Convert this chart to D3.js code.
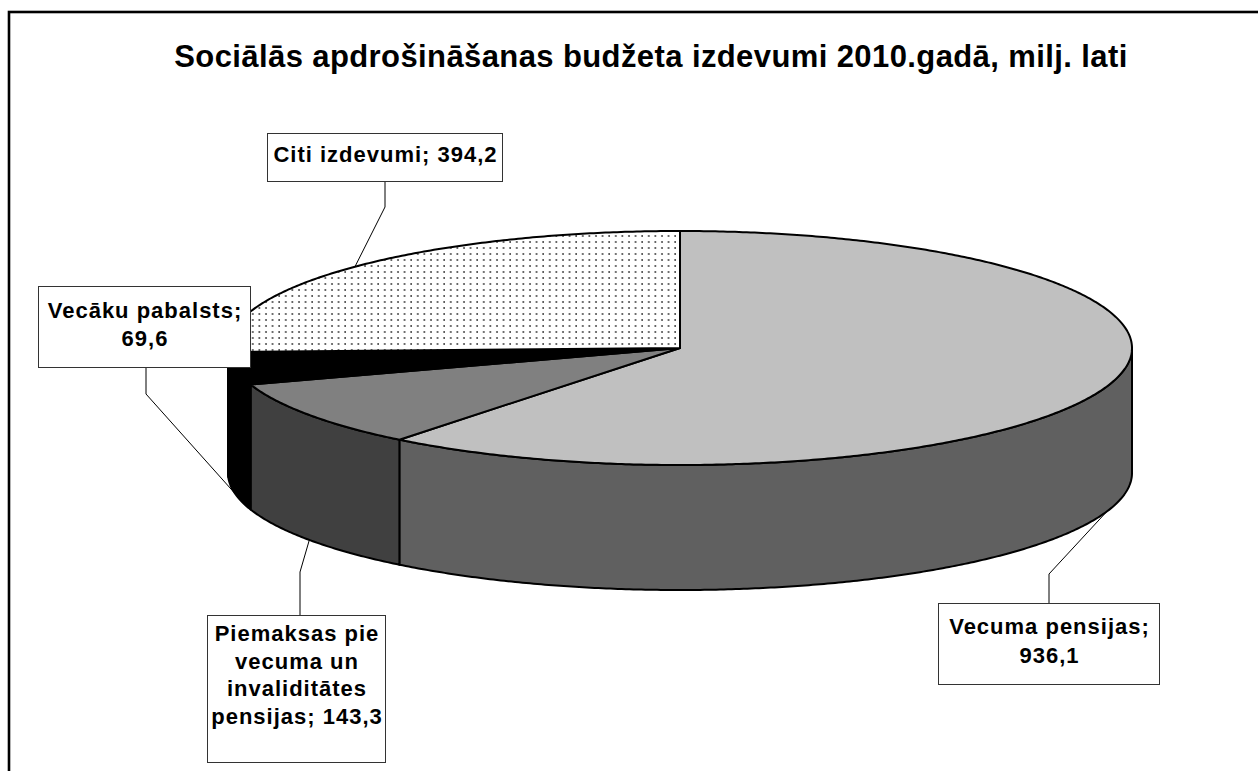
<!DOCTYPE html>
<html>
<head>
<meta charset="utf-8">
<script src="https://cdn.jsdelivr.net/npm/d3@7"></script>
<style>
  html, body { margin: 0; padding: 0; background: #fff; }
  svg { display: block; }
  text { font-family: "Liberation Sans", Arial, sans-serif; font-weight: bold; fill: #000; }
</style>
</head>
<body>
<svg id="chart" width="1258" height="771"></svg>
<script>
// ---- data ----
const title = "Sociālās apdrošināšanas budžeta izdevumi 2010.gadā, milj. lati";
const categories = ["Vecuma pensijas", "Piemaksas pie vecuma un invaliditātes pensijas", "Vecāku pabalsts", "Citi izdevumi"];
const values = [936.1, 143.3, 69.6, 394.2];

// ---- styles / layout ----
const topColors  = ["#c0c0c0", "#808080", "#000000", "url(#dots)"];
const sideColors = ["#606060", "#404040", "#000000", "#ffffff"];
const cx = 680, cy = 348, rx = 452, ry = 117, depth = 125;
const boxes = [
  { x: 938, y: 603, w: 221, h: 81, breaks: [2, 1], base: 31, lh: 29, ax: 1049, ay: 603, ey: 574, edge: "bottom" },
  { x: 207, y: 615, w: 178, h: 147, breaks: [2, 2, 1, 2], base: 26, lh: 27.6, ax: 300, ay: 615, ey: 572, edge: "bottom" },
  { x: 38, y: 286, w: 212, h: 81, breaks: [2, 1], base: 32, lh: 28, ax: 146, ay: 367, ey: 394, edge: "bottom" },
  { x: 267, y: 133, w: 235, h: 48, breaks: [3], base: 29, lh: 28, ax: 385, ay: 181, ey: 207, edge: "top" }
];

const svg = d3.select("#chart");
const defs = svg.append("defs");
const pat = defs.append("pattern").attr("id", "dots")
  .attr("patternUnits", "userSpaceOnUse").attr("width", 6.6).attr("height", 6);
pat.append("rect").attr("width", 6.6).attr("height", 6).attr("fill", "#fff");
pat.append("circle").attr("cx", 2).attr("cy", 2).attr("r", 0.9).attr("fill", "#333");

// frame
svg.append("rect").attr("x", 9).attr("y", 12).attr("width", 1400).attr("height", 900)
  .attr("fill", "none").attr("stroke", "#000").attr("stroke-width", 2.6);

// title
svg.append("text").attr("x", 651).attr("y", 67).attr("text-anchor", "middle")
  .style("font-size", "31px").style("letter-spacing", "0.4px").text(title);

// scales for ellipse
const xs = d3.scaleLinear().domain([-1, 1]).range([cx - rx, cx + rx]);
const ys = d3.scaleLinear().domain([-1, 1]).range([cy - ry, cy + ry]);
const P = (t, off) => [xs(Math.sin(t)), ys(-Math.cos(t)) + (off || 0)];

const pie = d3.pie().sort(null).startAngle(0).endAngle(2 * Math.PI);
const arcs = pie(values);

function arcPts(a0, a1, off) {
  const n = Math.max(2, Math.ceil((a1 - a0) / (Math.PI / 360)));
  return d3.range(n + 1).map(i => P(a0 + (a1 - a0) * i / n, off));
}

const g = svg.append("g");
arcs.forEach((a, i) => {
  const s0 = Math.max(a.startAngle, Math.PI / 2), s1 = Math.min(a.endAngle, 3 * Math.PI / 2);
  if (s1 <= s0) return;
  const pts = arcPts(s0, s1, 0).concat(arcPts(s0, s1, depth).reverse());
  g.append("path").attr("d", d3.line()(pts) + "Z")
    .attr("fill", sideColors[i]).attr("stroke", "#000").attr("stroke-width", 2)
    .attr("stroke-linejoin", "round");
});
arcs.forEach((a, i) => {
  const pts = [[cx, cy]].concat(arcPts(a.startAngle, a.endAngle, 0));
  g.append("path").attr("d", d3.line()(pts) + "Z")
    .attr("fill", topColors[i]).attr("stroke", "#000").attr("stroke-width", 2)
    .attr("stroke-linejoin", "round");
});

// labels
const fmt = v => d3.format(".1f")(v).replace(".", ",");
arcs.forEach((a, i) => {
  const b = boxes[i];
  const mid = (a.startAngle + a.endAngle) / 2;
  const end = P(mid, b.edge === "bottom" ? depth : 0);
  svg.append("path").attr("d", d3.line()([[b.ax, b.ay], [b.ax, b.ey], end]))
    .attr("fill", "none").attr("stroke", "#000").attr("stroke-width", 1);
  svg.append("rect").attr("x", b.x + 0.5).attr("y", b.y + 0.5).attr("width", b.w).attr("height", b.h)
    .attr("fill", "#fff").attr("stroke", "#333").attr("stroke-width", 1);
  const words = (categories[i] + "; " + fmt(values[i])).split(" ");
  let k = 0;
  b.breaks.forEach((c, li) => {
    const line = words.slice(k, k + c).join(" ");
    k += c;
    svg.append("text").attr("x", b.x + b.w / 2 + 1).attr("y", b.y + b.base + li * b.lh)
      .attr("text-anchor", "middle").style("font-size", "22px").style("letter-spacing", "1px")
      .text(line);
  });
});
</script>
</body>
</html>
